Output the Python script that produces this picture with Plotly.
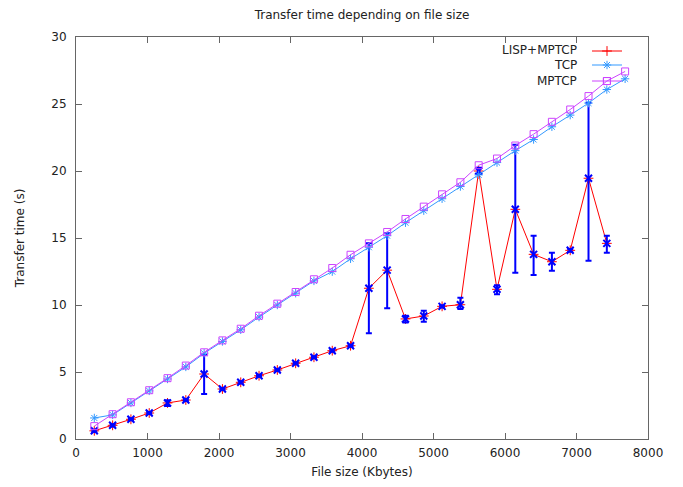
import plotly.graph_objects as go

# ---------------- data ----------------
file_size = [256 * k for k in range(1, 31)]

tcp = [1.57, 1.80, 2.69, 3.59, 4.48, 5.38, 6.40, 7.28, 8.15, 9.10,
       10.00, 10.88, 11.80, 12.49, 13.45, 14.31, 15.17, 16.14, 17.04, 17.93,
       18.84, 19.71, 20.63, 21.52, 22.35, 23.30, 24.17, 25.07, 26.08, 26.88]

mptcp = [0.96, 1.85, 2.74, 3.64, 4.54, 5.48, 6.47, 7.36, 8.23, 9.20,
         10.10, 10.97, 11.92, 12.76, 13.75, 14.60, 15.45, 16.42, 17.34, 18.26,
         19.16, 20.43, 20.93, 21.90, 22.75, 23.67, 24.59, 25.59, 26.71, 27.43]

lisp_size = [256 * k for k in range(1, 30)]
lisp_mptcp = [0.61, 1.02, 1.47, 1.94, 2.69, 2.91, 4.85, 3.73, 4.23, 4.72,
              5.15, 5.65, 6.10, 6.59, 6.96, 11.25, 12.60, 8.96, 9.18, 9.90,
              10.02, 20.00, 11.17, 17.14, 13.78, 13.23, 14.08, 19.46, 14.60]
lisp_low = [0.53, 0.94, 1.39, 1.86, 2.47, 2.83, 3.36, 3.65, 4.15, 4.64,
            5.07, 5.57, 6.02, 6.51, 6.88, 7.90, 9.75, 8.70, 8.75, 9.82,
            9.70, 19.78, 10.80, 12.40, 12.24, 12.56, 13.98, 13.30, 13.90]
lisp_high = [0.69, 1.10, 1.55, 2.02, 2.89, 2.99, 6.27, 3.81, 4.31, 4.80,
             5.23, 5.73, 6.18, 6.67, 7.04, 14.60, 15.35, 9.20, 9.57, 9.98,
             10.55, 20.25, 11.47, 21.95, 15.17, 13.90, 14.18, 25.10, 15.17]

series_names = ["LISP+MPTCP", "TCP", "MPTCP"]
x_ticks = [0, 1000, 2000, 3000, 4000, 5000, 6000, 7000, 8000]
y_ticks = [0, 5, 10, 15, 20, 25, 30]

# ---------------- style ----------------
RED = "#ff0000"
TCP_C = "#3399ff"
MP_C = "#cc44ff"
ERR_C = "#0000ff"
TXT = "#222222"
FRAME = "#666666"
FONT = "DejaVu Sans"

OFF = 8  # page body margin
W, H = 683 - 2 * OFF, 487 - 2 * OFF
# plot area in page pixels: left 76, right 648, top 37, bottom 439
L = 76 - OFF
T = 37 - OFF
R = W - (648 - OFF)
B = H - (439 - OFF)
pw, ph = W - L - R, H - T - B

def px2paper_x(px):
    return (px - OFF - L) / pw

def px2paper_y(py):
    return (H - B - (py - OFF)) / ph

fig = go.Figure()

fig.add_trace(go.Scatter(
    x=lisp_size, y=lisp_mptcp, name=" ", mode="lines+markers",
    legend="legend",
    line=dict(color=RED, width=1),
    marker=dict(symbol="cross-thin-open", size=7, color=RED,
                line=dict(color=RED, width=1)),
))

fig.add_trace(go.Scatter(
    x=lisp_size, y=lisp_mptcp, mode="markers", showlegend=False,
    marker=dict(symbol="x-thin-open", size=7, color=ERR_C,
                line=dict(color=ERR_C, width=2)),
    error_y=dict(type="data", symmetric=False,
                 array=[h - v for h, v in zip(lisp_high, lisp_mptcp)],
                 arrayminus=[v - l for v, l in zip(lisp_mptcp, lisp_low)],
                 color=ERR_C, thickness=2, width=3),
))

fig.add_trace(go.Scatter(
    x=file_size, y=tcp, name=" ", mode="lines+markers",
    legend="legend2",
    line=dict(color=TCP_C, width=1),
    marker=dict(symbol="asterisk-open", size=7, color=TCP_C,
                line=dict(color=TCP_C, width=1)),
))

fig.add_trace(go.Scatter(
    x=file_size, y=mptcp, name=" ", mode="lines+markers",
    legend="legend3",
    line=dict(color=MP_C, width=1),
    marker=dict(symbol="square-open", size=7, color=MP_C,
                line=dict(color=MP_C, width=1)),
))

text_rows = [50, 65, 81]
sample_rows = [51, 65, 81]

annotations = []
for name, py in zip(series_names, text_rows):
    annotations.append(dict(
        text=name, xref="paper", yref="paper",
        x=px2paper_x(579), y=px2paper_y(py),
        xanchor="right", yanchor="middle", showarrow=False,
        font=dict(family=FONT, size=12, color=TXT),
    ))

def legend_at(py):
    return dict(x=px2paper_x(587), y=px2paper_y(py), xanchor="left",
                yanchor="middle", bgcolor="rgba(0,0,0,0)", borderwidth=0,
                font=dict(family=FONT, size=10), tracegroupgap=0)

axis_common = dict(
    showline=True, linecolor=FRAME, linewidth=1, mirror="allticks",
    ticks="inside", ticklen=6, tickcolor=FRAME, tickwidth=1,
    showgrid=False, zeroline=False,
    tickfont=dict(family=FONT, size=12, color=TXT),
)

fig.update_layout(
    width=W, height=H,
    margin=dict(l=L, r=R, t=T, b=B, autoexpand=False),
    paper_bgcolor="white", plot_bgcolor="white",
    title=dict(text="Transfer time depending on file size",
               x=px2paper_x(362), xref="paper", xanchor="center",
               y=1 - 3 / H, yref="container", yanchor="top",
               font=dict(family=FONT, size=12, color=TXT)),
    xaxis=dict(range=[0, 8000], tickvals=x_ticks,
               ticktext=[str(v) for v in x_ticks],
               title=dict(text="File size (Kbytes)", standoff=17,
                          font=dict(family=FONT, size=12, color=TXT)),
               ticklabelstandoff=3,
               **axis_common),
    yaxis=dict(range=[0, 30], tickvals=y_ticks,
               ticktext=[str(v) for v in y_ticks],
               title=dict(text="Transfer time (s)", standoff=24,
                          font=dict(family=FONT, size=12, color=TXT)),
               ticklabelstandoff=6,
               **axis_common),
    legend=legend_at(sample_rows[0]),
    legend2=legend_at(sample_rows[1]),
    legend3=legend_at(sample_rows[2]),
    annotations=annotations,
    showlegend=True,
)

fig.write_html("out.html")
